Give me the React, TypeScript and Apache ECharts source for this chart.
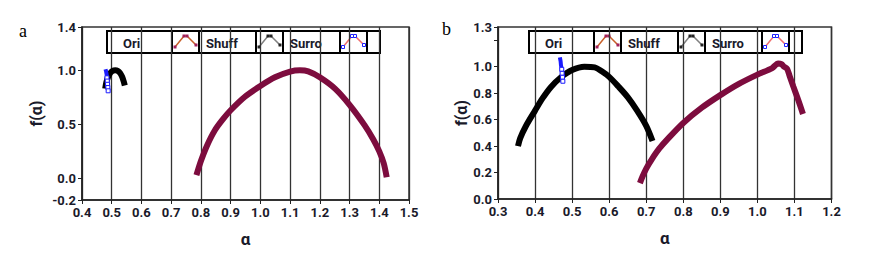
import React, { useEffect, useRef } from "react";
import * as echarts from "echarts";

const seriesNames = ["Ori", "Shuff", "Surro"];
const panelLetters = ["a", "b"];

// Panel a
const leftOri: [number, number][] = [
  [0.785, 0.03], [0.8, 0.16], [0.82, 0.3], [0.847, 0.445], [0.875, 0.55], [0.9, 0.63],
  [0.948, 0.755], [1.0, 0.855], [1.049, 0.935], [1.1, 0.988], [1.133, 1.0], [1.161, 0.99],
  [1.2, 0.935], [1.251, 0.83], [1.3, 0.68], [1.351, 0.49], [1.38, 0.36], [1.4, 0.25],
  [1.415, 0.14], [1.425, 0.01],
];
const leftShuff: [number, number][] = [
  [0.478, 0.83], [0.482, 0.89], [0.488, 0.94], [0.495, 0.975], [0.503, 0.995], [0.512, 1.0],
  [0.52, 0.995], [0.528, 0.975], [0.535, 0.94], [0.54, 0.9], [0.544, 0.86],
];
const leftSurro: [number, number][] = [
  [0.479, 1.01], [0.481, 0.99], [0.483, 0.96], [0.484, 0.93], [0.485, 0.9], [0.486, 0.87],
  [0.487, 0.84], [0.488, 0.81],
];

// Panel b
const rightOri: [number, number][] = [
  [0.683, 0.12], [0.69, 0.17], [0.7, 0.23], [0.715, 0.3], [0.735, 0.38], [0.76, 0.46],
  [0.8, 0.575], [0.85, 0.69], [0.9, 0.785], [0.95, 0.87], [1.0, 0.94], [1.04, 0.99],
  [1.056, 1.025], [1.065, 1.02], [1.072, 1.0], [1.08, 0.985], [1.087, 0.93], [1.097, 0.85],
  [1.11, 0.75], [1.123, 0.643],
];
const rightShuff: [number, number][] = [
  [0.354, 0.4], [0.36, 0.46], [0.375, 0.55], [0.4, 0.668], [0.42, 0.76], [0.443, 0.847],
  [0.47, 0.92], [0.5, 0.975], [0.533, 1.0], [0.561, 0.995], [0.58, 0.965], [0.6, 0.923],
  [0.625, 0.85], [0.65, 0.77], [0.675, 0.67], [0.7, 0.553], [0.717, 0.438],
];
const rightSurro: [number, number][] = [
  [0.467, 1.07], [0.469, 1.04], [0.47, 1.01], [0.472, 0.98], [0.473, 0.95], [0.474, 0.92],
  [0.475, 0.89],
];

const leftXRange = [0.4, 1.5];
const rightXRange = [0.3, 1.2];
const leftYRange = [-0.2, 1.4];
const rightYRange = [0, 1.3];
const leftYTicks = [-0.2, 0, 0.5, 1.0, 1.4];
const rightYLabels = [0, 0.2, 0.4, 0.6, 0.8, 1.0, 1.3];
const rightYTicks = [0, 0.2, 0.4, 0.6, 0.8, 1.0, 1.2, 1.3];

const ORI = "#7d0c3e";
const SHUFF = "#000000";
const SURRO = "#1a1aff";
const TXT = "#1a1a2a";
const FONT = "Roboto, 'DejaVu Sans', sans-serif";

function legendGraphic(x0: number, y0: number) {
  const h = 22;
  const cells = [
    { w: 65, kind: "text", label: seriesNames[0], dx: 16 },
    { w: 27, kind: "icon", line: "#c8602a", marker: "#a0205a", hollow: false },
    { w: 57, kind: "text", label: seriesNames[1], dx: 7 },
    { w: 27, kind: "icon", line: "#808080", marker: "#222222", hollow: false },
    { w: 57, kind: "text", label: seriesNames[2], dx: 7 },
    { w: 27, kind: "icon", line: "#f07070", marker: "#2020ff", hollow: true },
    { w: 13, kind: "empty" },
  ];
  const total = cells.reduce((s, c) => s + c.w, 0);
  const children: any[] = [
    { type: "rect", shape: { x: x0, y: y0, width: total, height: h }, style: { fill: "#fff", stroke: "#000", lineWidth: 2 } },
  ];
  let x = x0;
  cells.forEach((c: any) => {
    if (c.kind === "text") {
      children.push({
        type: "text",
        x: x + c.dx,
        y: y0 + h / 2 + 1,
        style: { text: c.label, font: `bold 13px ${FONT}`, fill: TXT, verticalAlign: "middle", align: "left" },
      });
    } else if (c.kind === "icon") {
      children.push({ type: "rect", shape: { x, y: y0, width: c.w, height: h }, style: { fill: "#fff", stroke: "#000", lineWidth: 2 } });
      const pts = [[x + 3, y0 + 16], [x + 12, y0 + 5], [x + 15, y0 + 5], [x + 24, y0 + 14]];
      children.push({ type: "polyline", shape: { points: pts }, style: { stroke: c.line, lineWidth: 1.5, fill: null } });
      pts.forEach((p) => {
        children.push({
          type: "rect",
          shape: { x: p[0] - 1.5, y: p[1] - 1.5, width: 3, height: 3 },
          style: c.hollow ? { fill: "#fff", stroke: c.marker, lineWidth: 1 } : { fill: c.marker },
        });
      });
    } else {
      children.push({ type: "line", shape: { x1: x, y1: y0, x2: x, y2: y0 + h }, style: { stroke: "#000", lineWidth: 1 } });
    }
    x += c.w;
  });
  return { type: "group", z: 100, children };
}

function fmt(v: number) {
  return (Math.round(v * 10) / 10).toFixed(1);
}

function xAxisOf(gridIndex: number, range: number[]) {
  return {
    type: "value",
    gridIndex,
    min: range[0],
    max: range[1],
    interval: 0.1,
    name: "α",
    nameLocation: "middle",
    nameGap: 30,
    nameTextStyle: { fontFamily: FONT, fontWeight: "bold", fontSize: 17, color: TXT },
    axisLine: { show: true, onZero: false, lineStyle: { color: "#222", width: 1.5 } },
    axisTick: { show: true, length: 4, lineStyle: { color: "#222", width: 1 } },
    axisLabel: { formatter: fmt, fontFamily: FONT, fontWeight: "bold", fontSize: 13, color: TXT, margin: 6 },
    splitLine: { show: true, lineStyle: { color: "#333", width: 1.3 } },
  };
}

function yAxisOf(gridIndex: number, range: number[], labels: number[], ticks: number[], gap: number) {
  return {
    type: "value",
    gridIndex,
    min: range[0],
    max: range[1],
    name: "f(α)",
    nameLocation: "middle",
    nameGap: gap,
    nameTextStyle: { fontFamily: FONT, fontWeight: "bold", fontSize: 16, color: TXT },
    axisLine: { show: true, onZero: false, lineStyle: { color: "#222", width: 1.5 } },
    axisTick: { show: true, length: 4, customValues: ticks, lineStyle: { color: "#222", width: 1 } },
    axisLabel: { customValues: labels, formatter: fmt, fontFamily: FONT, fontWeight: "bold", fontSize: 13, color: TXT, margin: 6 },
    splitLine: { show: false },
  };
}

function lineSeries(name: string, data: any[], idx: number, color: string, width: number, extra: any = {}) {
  return {
    name,
    type: "line",
    xAxisIndex: idx,
    yAxisIndex: idx,
    data,
    smooth: 0.3,
    showSymbol: false,
    lineStyle: { color, width },
    itemStyle: { color },
    ...extra,
  };
}

// Surro: solid at the top, hollow square markers on the lower points
function surroData(pts: [number, number][]) {
  return pts.map((p, i) => (i < 3 ? { value: p, symbol: "none" } : { value: p }));
}

export default function App() {
  const ref = useRef<HTMLDivElement>(null);
  useEffect(() => {
    if (!ref.current) return;
    const chart = echarts.init(ref.current, null, { renderer: "svg" });
    const surroExtra = {
      showSymbol: true,
      symbol: "rect",
      symbolSize: 4,
      smooth: false,
      itemStyle: { color: "#fff", borderColor: SURRO, borderWidth: 1 },
    };
    chart.setOption({
      animation: false,
      backgroundColor: "#fff",
      grid: [
        { left: 82, top: 27, width: 327, height: 173, show: true, borderColor: "#333", borderWidth: 1.5, backgroundColor: "#fff" },
        { left: 498, top: 27, width: 333.5, height: 172, show: true, borderColor: "#333", borderWidth: 1.5, backgroundColor: "#fff" },
      ],
      xAxis: [xAxisOf(0, leftXRange), xAxisOf(1, rightXRange)],
      yAxis: [
        yAxisOf(0, leftYRange, leftYTicks, leftYTicks, 38),
        yAxisOf(1, rightYRange, rightYLabels, rightYTicks, 26),
      ],
      series: [
        lineSeries(seriesNames[1], leftShuff, 0, SHUFF, 6),
        lineSeries(seriesNames[2], surroData(leftSurro), 0, SURRO, 4, surroExtra),
        lineSeries(seriesNames[0], leftOri, 0, ORI, 6),
        lineSeries(seriesNames[1], rightShuff, 1, SHUFF, 6),
        lineSeries(seriesNames[2], surroData(rightSurro), 1, SURRO, 4, surroExtra),
        lineSeries(seriesNames[0], rightOri, 1, ORI, 6),
      ],
      graphic: [
        legendGraphic(107, 31),
        legendGraphic(529, 31),
        { type: "text", x: 19, y: 22, style: { text: panelLetters[0], font: "18px 'Liberation Serif', serif", fill: "#000" } },
        { type: "text", x: 442, y: 20, style: { text: panelLetters[1], font: "18px 'Liberation Serif', serif", fill: "#000" } },
      ],
    });
    return () => chart.dispose();
  }, []);
  return <div ref={ref} style={{ position: "fixed", left: 0, top: 0, width: 872, height: 273, background: "#fff" }} />;
}
